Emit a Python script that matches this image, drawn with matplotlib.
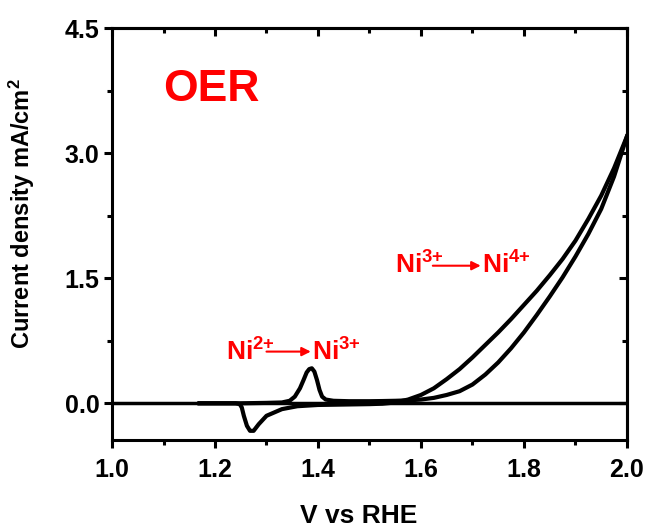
import matplotlib
matplotlib.use("Agg")
import matplotlib.pyplot as plt
from matplotlib.ticker import MultipleLocator

plt.rcParams["font.family"] = ["Liberation Sans", "DejaVu Sans"]
plt.rcParams["font.weight"] = "bold"
plt.rcParams["mathtext.fontset"] = "custom"
plt.rcParams["mathtext.rm"] = "Liberation Sans:bold"
plt.rcParams["mathtext.it"] = "Liberation Sans:bold"
plt.rcParams["mathtext.bf"] = "Liberation Sans:bold"

# anodic (forward) scan, V vs RHE -> mA/cm2
fwd_v = [1.17, 1.25, 1.30, 1.33, 1.345, 1.355, 1.365, 1.372, 1.378, 1.383,
         1.388, 1.393, 1.398, 1.403, 1.408, 1.415, 1.43, 1.46, 1.50, 1.525,
         1.55, 1.575, 1.60, 1.625, 1.65, 1.675, 1.70, 1.725, 1.75, 1.775,
         1.80, 1.825, 1.85, 1.875, 1.90, 1.925, 1.95, 1.975, 2.0]
fwd_j = [0.0, 0.0, 0.005, 0.01, 0.03, 0.08, 0.18, 0.28, 0.37, 0.41,
         0.42, 0.38, 0.28, 0.16, 0.08, 0.045, 0.03, 0.025, 0.025, 0.027,
         0.03, 0.035, 0.045, 0.065, 0.10, 0.145, 0.225, 0.345, 0.49, 0.66,
         0.85, 1.06, 1.28, 1.51, 1.76, 2.03, 2.33, 2.72, 3.2]

# cathodic (reverse) scan
rev_v = [2.0, 1.975, 1.95, 1.925, 1.90, 1.875, 1.85, 1.825, 1.80, 1.775,
         1.75, 1.725, 1.70, 1.675, 1.65, 1.625, 1.60, 1.575, 1.55, 1.525,
         1.50, 1.45, 1.40, 1.36, 1.33, 1.30, 1.285, 1.275, 1.268, 1.262,
         1.256, 1.252, 1.248, 1.24, 1.17]
rev_j = [3.2, 2.82, 2.49, 2.21, 1.95, 1.73, 1.535, 1.35, 1.18, 1.01,
         0.85, 0.70, 0.55, 0.41, 0.29, 0.18, 0.10, 0.045, 0.01, -0.005,
         -0.01, -0.015, -0.02, -0.035, -0.07, -0.15, -0.25, -0.33, -0.33, -0.27,
         -0.15, -0.05, -0.01, 0.0, 0.0]

fig = plt.figure(figsize=(6.49, 5.31), dpi=100)
ax = fig.add_axes([0.1726, 0.1714, 0.7934, 0.7758])

ax.axhline(0, color="black", lw=2.5, zorder=1)
ax.plot(fwd_v, fwd_j, color="black", lw=3, solid_joinstyle="round", zorder=2)
ax.plot(rev_v, rev_j, color="black", lw=3, solid_joinstyle="round", zorder=2)

ax.set_xlim(1.0, 2.0)
ax.set_ylim(-0.44, 4.5)
ax.xaxis.set_minor_locator(MultipleLocator(0.1))
ax.yaxis.set_minor_locator(MultipleLocator(0.75))
ax.set_xticks([1.0, 1.2, 1.4, 1.6, 1.8, 2.0])
ax.set_xticklabels(["1.0", "1.2", "1.4", "1.6", "1.8", "2.0"])
ax.set_yticks([0.0, 1.5, 3.0, 4.5])
ax.set_yticklabels(["0.0", "1.5", "3.0", "4.5"])

for side in ax.spines.values():
    side.set_linewidth(2.2)
ax.tick_params(axis="both", which="major", direction="out", length=6, width=2.2,
               labelsize=18, top=False, right=False)
ax.tick_params(axis="both", which="minor", direction="out", length=3.5, width=2.2,
               top=False, right=False)
ax.tick_params(axis="x", pad=7)
ax.tick_params(axis="y", pad=3)

# inward ticks on top and right, no labels
top = ax.secondary_xaxis("top")
top.xaxis.set_major_locator(MultipleLocator(0.2))
top.xaxis.set_minor_locator(MultipleLocator(0.1))
top.tick_params(which="major", direction="in", length=6, width=2.2, labeltop=False)
top.tick_params(which="minor", direction="in", length=3.5, width=2.2)
top.spines["top"].set_linewidth(2.2)
right = ax.secondary_yaxis("right")
right.yaxis.set_major_locator(MultipleLocator(1.5))
right.yaxis.set_minor_locator(MultipleLocator(0.75))
right.tick_params(which="major", direction="in", length=6, width=2.2, labelright=False)
right.tick_params(which="minor", direction="in", length=3.5, width=2.2)
right.spines["right"].set_linewidth(2.2)

ax.set_xlabel("V vs RHE", fontsize=19, fontweight="bold")
ax.set_ylabel("Current density mA/cm$^2$", fontsize=17, fontweight="bold")
ax.xaxis.set_label_coords(0.48, -0.155)
ax.yaxis.set_label_coords(-0.145, 0.55)

ax.text(1.192, 3.76, "OER", color="red", fontsize=32, fontweight="bold",
        ha="center", va="center")

red = "#ff0000"
ax.text(1.222, 0.514, "Ni$^{2{+}}$", color=red, fontsize=19, fontweight="bold",
        ha="left", va="baseline")
ax.annotate("", xy=(1.386, 0.62), xytext=(1.300, 0.62),
            arrowprops=dict(arrowstyle="-|>", color=red, lw=1.5, mutation_scale=13,
                            shrinkA=0, shrinkB=0))
ax.text(1.389, 0.514, "Ni$^{3{+}}$", color=red, fontsize=19, fontweight="bold",
        ha="left", va="baseline")

ax.text(1.549, 1.553, "Ni$^{3{+}}$", color=red, fontsize=19, fontweight="bold",
        ha="left", va="baseline")
ax.annotate("", xy=(1.716, 1.65), xytext=(1.623, 1.65),
            arrowprops=dict(arrowstyle="-|>", color=red, lw=1.5, mutation_scale=13,
                            shrinkA=0, shrinkB=0))
ax.text(1.719, 1.553, "Ni$^{4{+}}$", color=red, fontsize=19, fontweight="bold",
        ha="left", va="baseline")

fig.savefig("out.png", dpi=100)
